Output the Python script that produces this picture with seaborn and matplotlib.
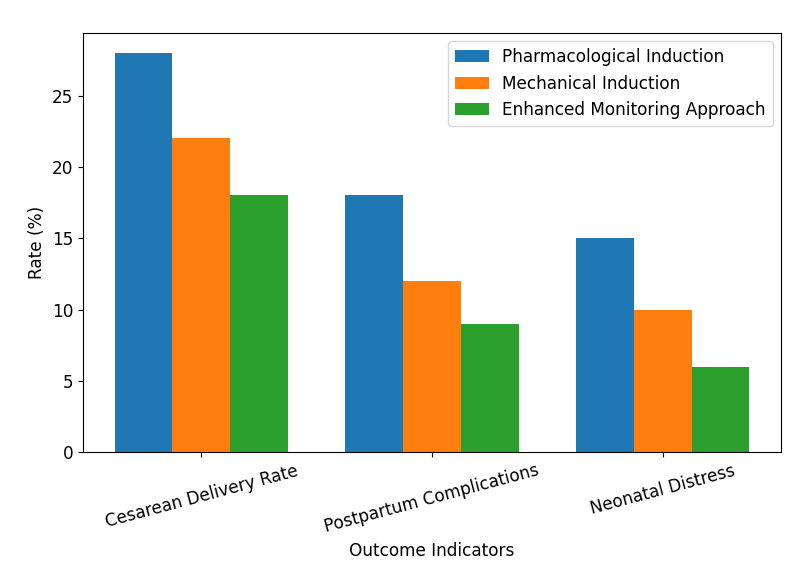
import pandas as pd
import seaborn as sns
import matplotlib.pyplot as plt

# Chart data
indicators = ['Cesarean Delivery Rate', 'Postpartum Complications', 'Neonatal Distress']
methods = ['Pharmacological Induction', 'Mechanical Induction', 'Enhanced Monitoring Approach']
pharmacological = [28, 18, 15]
mechanical = [22, 12, 10]
enhanced = [18, 9, 6]

rows = []
for method, values in zip(methods, [pharmacological, mechanical, enhanced]):
    for ind, v in zip(indicators, values):
        rows.append({'Outcome Indicators': ind, 'Method': method, 'Rate (%)': v})
df = pd.DataFrame(rows)

plt.rcParams['font.family'] = ['DejaVu Sans']
plt.rcParams['font.size'] = 12.2

fig, ax = plt.subplots(figsize=(8.06, 5.74), dpi=100)
sns.barplot(data=df, x='Outcome Indicators', y='Rate (%)', hue='Method',
            hue_order=methods, order=indicators,
            palette=['#1f77b4', '#ff7f0e', '#2ca02c'],
            width=0.75, gap=0, saturation=1, ax=ax)

ax.set_xlim(-0.5125, 2.5125)
ax.set_ylim(0, 29.4)
ax.legend(loc='upper right', title=None)
plt.xticks(rotation=15)
ax.set_xlabel('Outcome Indicators')
ax.set_ylabel('Rate (%)')

plt.subplots_adjust(left=0.103, right=0.969, top=0.9425, bottom=0.2125)
plt.savefig('out.png', dpi=100)
